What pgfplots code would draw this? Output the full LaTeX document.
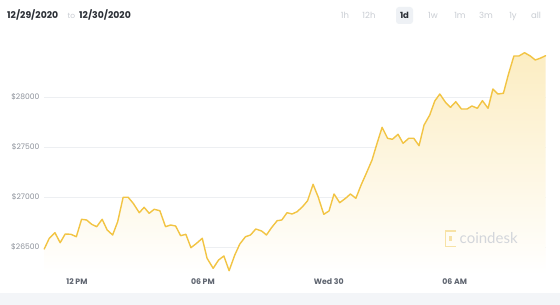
\documentclass[border=0pt]{standalone}
\usepackage{fontspec}
\setmainfont{Poppins}
\newfontfamily\latofont{Lato}
\usepackage{pgfplots}
\pgfplotsset{compat=1.18}

\definecolor{priceline}{HTML}{F2C443}
\definecolor{pricefill}{HTML}{FCEDC2}
\definecolor{gridgray}{HTML}{EDEFF2}
\definecolor{ticklab}{HTML}{8C919A}
\definecolor{xlab}{HTML}{5F6570}
\definecolor{headdark}{HTML}{2A2E35}
\definecolor{headlight}{HTML}{C9CDD3}
\definecolor{pill}{HTML}{EEF1F5}
\definecolor{band}{HTML}{F3F5F8}
\definecolor{wmark}{HTML}{D3D6DB}
\definecolor{wlogo}{HTML}{F7E2A6}

% BTC price, hours relative to 12 PM on 12/29/2020
\pgfplotstableread{
h      price
-1.56  26480
-1.32  26587
-1.05  26643
-0.80  26543
-0.56  26630
-0.29  26627
-0.03  26603
0.22   26777
0.46   26770
0.70   26727
0.94   26703
1.20   26777
1.44   26670
1.70   26620
1.94   26753
2.20   26997
2.44   26997
2.68   26937
2.97   26843
3.20   26897
3.44   26837
3.68   26877
3.95   26863
4.22   26703
4.46   26720
4.70   26710
4.94   26613
5.19   26627
5.43   26493
5.70   26537
5.97   26587
6.20   26387
6.49   26287
6.75   26370
7.00   26410
7.25   26263
7.52   26420
7.76   26530
8.03   26603
8.27   26620
8.52   26680
8.80   26660
9.03   26620
9.27   26693
9.54   26763
9.76   26770
10.01  26843
10.25  26830
10.49  26853
10.75  26903
10.99  26963
11.25  27127
11.49  27003
11.76  26827
12.01  26860
12.25  27030
12.52  26943
12.80  26987
13.03  27030
13.29  26987
13.54  27120
13.80  27243
14.06  27370
14.30  27537
14.54  27697
14.80  27587
15.03  27577
15.30  27627
15.54  27537
15.81  27587
16.05  27587
16.30  27513
16.54  27720
16.81  27820
17.05  27960
17.29  28030
17.56  27947
17.80  27897
18.05  27953
18.32  27880
18.59  27880
18.82  27910
19.08  27887
19.32  27963
19.59  27887
19.82  28080
20.06  28030
20.32  28037
20.56  28227
20.82  28410
21.06  28410
21.33  28443
21.60  28410
21.84  28370
22.10  28390
22.33  28413
}\pricedata

\begin{document}
\begin{tikzpicture}[x=1pt,y=1pt]
\fill[white] (0,0) rectangle (560,305);
\fill[band] (0,0) rectangle (560,12);

% header: date range
\node[anchor=base west, inner sep=0, text=headdark, font=\bfseries\fontsize{9.3}{11}\selectfont] at (7,286) {12/29/2020};
\node[anchor=base west, inner sep=0, text=headlight, font=\fontsize{7.5}{9}\selectfont] at (67.5,286) {to};
\node[anchor=base west, inner sep=0, text=headdark, font=\bfseries\fontsize{9.3}{11}\selectfont] at (79,286) {12/30/2020};

% header: period selector
\fill[pill, rounded corners=3pt] (396,281) rectangle (413,298);
\foreach \lab/\xc in {1h/345,12h/369,1w/433,1m/460,3m/486,1y/513,all/536}
  \node[anchor=base, inner sep=0, text=headlight, font=\fontsize{8.5}{10}\selectfont] at (\xc,286) {\lab};
\node[anchor=base, inner sep=0, text=headdark, font=\bfseries\fontsize{8.5}{10}\selectfont] at (404.5,286) {1d};

\begin{axis}[
  at={(44pt,31pt)}, anchor=south west,
  width=502pt, height=225pt, scale only axis,
  xmin=-1.571, xmax=22.35,
  ymin=26230, ymax=28480,
  axis line style={draw=none},
  tick style={draw=none},
  scaled y ticks=false,
  ytick={26500,27000,27500,28000},
  yticklabels={\$26500,\$27000,\$27500,\$28000},
  xtick={0,6,12,18},
  xticklabels={12 PM,06 PM,Wed 30,06 AM},
  ymajorgrids,
  grid style={gridgray, line width=0.6pt},
  yticklabel style={text=ticklab, font=\fontsize{7.6}{9}\selectfont, xshift=-1pt},
  xticklabel style={text=xlab, font=\bfseries\fontsize{7.8}{9}\selectfont, yshift=-1pt},
  clip=false,
]
\addplot[draw=none, top color=pricefill, bottom color=white, forget plot]
  table[x=h, y=price] {\pricedata} \closedcycle;
\addplot[priceline, line width=1.4pt, line join=round, line cap=round, mark=none]
  table[x=h, y=price] {\pricedata};
\end{axis}

% watermark
\begin{scope}[wlogo, line width=1.6pt]
  \draw (456,74) -- (445.5,74) -- (445.5,58.5) -- (456,58.5);
  \fill (449,64) rectangle (452,68.5);
\end{scope}
\node[anchor=base west, inner sep=0, text=wmark, font=\latofont\fontsize{15}{17}\selectfont] at (459.5,61) {coindesk};
\useasboundingbox (0,0) rectangle (560,305);
\end{tikzpicture}
\end{document}
